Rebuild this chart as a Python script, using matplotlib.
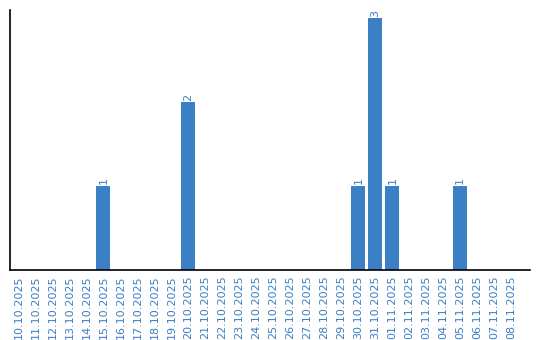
import matplotlib
matplotlib.use("Agg")
import matplotlib.pyplot as plt

dates = ["10.10.2025", "11.10.2025", "12.10.2025", "13.10.2025", "14.10.2025",
         "15.10.2025", "16.10.2025", "17.10.2025", "18.10.2025", "19.10.2025",
         "20.10.2025", "21.10.2025", "22.10.2025", "23.10.2025", "24.10.2025",
         "25.10.2025", "26.10.2025", "27.10.2025", "28.10.2025", "29.10.2025",
         "30.10.2025", "31.10.2025", "01.11.2025", "02.11.2025", "03.11.2025",
         "04.11.2025", "05.11.2025", "06.11.2025", "07.11.2025", "08.11.2025"]
counts = [0, 0, 0, 0, 0, 1, 0, 0, 0, 0,
          2, 0, 0, 0, 0, 0, 0, 0, 0, 0,
          1, 3, 1, 0, 0, 0, 1, 0, 0, 0]

BLUE = "#3b7fc4"

fig = plt.figure(figsize=(5.4, 3.4), dpi=100)
ax = fig.add_axes([10 / 540, 70 / 340, 520 / 540, 260 / 340])

x = list(range(len(dates)))
ax.bar(x, counts, width=0.82, color=BLUE)

for i, c in enumerate(counts):
    if c > 0:
        ax.text(i, c + 0.02, str(c), rotation=90, ha="center", va="bottom",
                color=BLUE, fontsize=8)

ax.set_xlim(-0.5, 30.1)
ax.set_ylim(0, 3.1)
ax.set_xticks(x)
ax.set_xticklabels(dates, rotation=90, color=BLUE, fontsize=8)
ax.tick_params(axis="x", length=0, pad=4)
ax.set_yticks([])
ax.spines["top"].set_visible(False)
ax.spines["right"].set_visible(False)
ax.spines["left"].set_linewidth(1.2)
ax.spines["bottom"].set_linewidth(1.2)

fig.savefig("out.png", dpi=100)
